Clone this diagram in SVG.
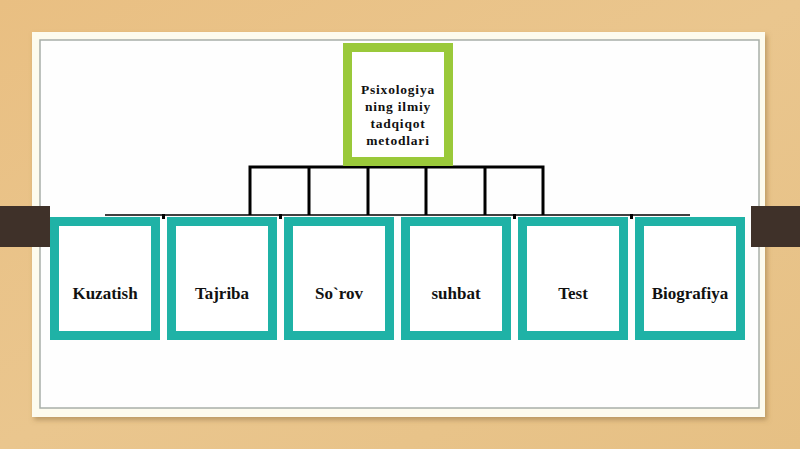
<svg xmlns="http://www.w3.org/2000/svg" width="800" height="449" viewBox="0 0 800 449">
<defs>
<linearGradient id="bg" x1="0" y1="0" x2="1" y2="1">
<stop offset="0" stop-color="#e9bf82"/>
<stop offset="0.5" stop-color="#eac68e"/>
<stop offset="1" stop-color="#e6c084"/>
</linearGradient>
<filter id="sh" x="-5%" y="-5%" width="110%" height="110%">
<feDropShadow dx="2" dy="3" stdDeviation="2.5" flood-color="#8a6a3a" flood-opacity="0.5"/>
</filter>
</defs>
<style>
.leaf rect{fill:#ffffff;stroke:#1fb2a6;stroke-width:9}
.root rect{fill:#ffffff;stroke:#9ac93a;stroke-width:9}
.lbl{font-family:"Liberation Serif","Times New Roman",serif;font-weight:bold;fill:#111;text-anchor:middle}
.leaf text{font-size:17px}
.root text{font-size:13.5px;letter-spacing:0.8px}
.conn{stroke:#000;stroke-width:3;fill:none}
.tab{fill:#3f3129}
</style>
<rect x="0" y="0" width="800" height="449" fill="url(#bg)"/>
<rect x="32" y="32" width="733" height="385" fill="#fdfbee" filter="url(#sh)"/>
<rect x="40" y="40" width="719" height="368" fill="#fefefe" stroke="#a8afa9" stroke-width="1.5"/>
<rect class="tab" x="0" y="206" width="50" height="41"/>
<rect class="tab" x="751" y="206" width="49" height="41"/>
<g id="connectors">
<path class="conn" d="M250,215 V167 H543 V215 M309,167 V215 M368,167 V215 M426,167 V215 M485,167 V215"/>
<path stroke="#000" stroke-width="1.5" d="M105,215 H690"/>
<path stroke="#000" stroke-width="3" d="M163.5,214 v5 M280.5,214 v5 M514.5,214 v5 M631.5,214 v5"/>
</g>
<g id="root" class="root">
<rect x="347.5" y="47.5" width="101" height="114"/>
<text class="lbl" x="398" y="94">Psixologiya</text>
<text class="lbl" x="398" y="111">ning ilmiy</text>
<text class="lbl" x="398" y="128">tadqiqot</text>
<text class="lbl" x="398" y="145">metodlari</text>
</g>
<g id="n1" class="leaf"><rect x="54.5" y="221.5" width="101" height="114"/><text class="lbl" x="105" y="299">Kuzatish</text></g>
<g id="n2" class="leaf"><rect x="171.5" y="221.5" width="101" height="114"/><text class="lbl" x="222" y="299">Tajriba</text></g>
<g id="n3" class="leaf"><rect x="288.5" y="221.5" width="101" height="114"/><text class="lbl" x="339" y="299">So`rov</text></g>
<g id="n4" class="leaf"><rect x="405.5" y="221.5" width="101" height="114"/><text class="lbl" x="456" y="299">suhbat</text></g>
<g id="n5" class="leaf"><rect x="522.5" y="221.5" width="101" height="114"/><text class="lbl" x="573" y="299">Test</text></g>
<g id="n6" class="leaf"><rect x="639.5" y="221.5" width="101" height="114"/><text class="lbl" x="690" y="299">Biografiya</text></g>
</svg>
